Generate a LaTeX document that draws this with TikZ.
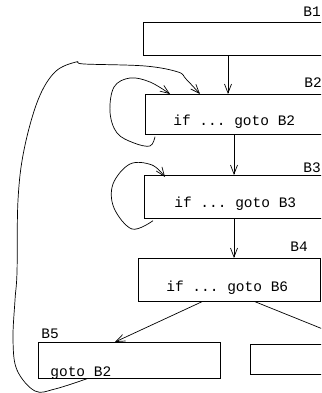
\documentclass[tikz,border=0pt]{standalone}
\usepackage{fontspec}
\setmonofont{Liberation Mono}
\usetikzlibrary{arrows.meta}

\begin{document}
\begin{tikzpicture}[x=1pt,y=-1pt,line width=0.7pt,
    >={Straight Barb[length=9pt,width=7pt]},
    block/.style={draw,anchor=north west,inner sep=0pt},
    code/.style={anchor=base west,inner sep=0pt,font=\ttfamily\fontsize{14.5}{16}\selectfont}]
	\useasboundingbox (0,0) rectangle (321,393);
	\clip (0,0) rectangle (321,393);
	
	\node[block,minimum width=200pt,minimum height=33pt] (b1) at (143,22) {};
	\node[block,minimum width=200pt,minimum height=40pt] (b2) at (145,94) {};
	\node[block,minimum width=200pt,minimum height=43pt] (b3) at (144,175) {};
	\node[block,minimum width=182pt,minimum height=43pt] (b4) at (138,258) {};
	\node[block,minimum width=182pt,minimum height=36pt] (b5) at (38,342) {};
	\node[block,minimum width=150pt,minimum height=30pt] (b6) at (250,344) {};
	
	\node[code] (n1) at (303,17) {B1};
	\node[code] (n2) at (304,88) {B2};
	\node[code] (n3) at (303,172) {B3};
	\node[code] (n4) at (290,251) {B4};
	\node[code] (n5) at (41,338) {B5};
	
	\node[code] (t2) at (173,125) {if ... goto B2};
	\node[code] (t3) at (174,207) {if ... goto B3};
	\node[code] (t4) at (166,291) {if ... goto B6};
	\node[code] (t5) at (50,376) {goto B2};
	
	\draw[->] ([xshift=85pt]b1.south west) -- ([xshift=83pt]b2.north west);
	\draw[->] ([xshift=89pt]b2.south west) -- ([xshift=90pt]b3.north west);
	\draw[->] ([xshift=90pt]b3.south west) -- ([xshift=96pt]b4.north west);
	\draw[->] ([xshift=64pt]b4.south west) -- ([xshift=77pt]b5.north west);
	\draw[->] ([xshift=117pt]b4.south west) -- ([xshift=110pt]b6.north west);
	
	% back edges, drawn by hand
	\coordinate (s2) at ([xshift=10pt,yshift=-2pt]b2.south west);
	\coordinate (e2) at ([xshift=25pt]b2.north west);
	\draw[->] plot[smooth,tension=0.6] coordinates {(s2) (150,146) (134,143) (117,133) (110,112) (114,87) (130,78) (150,82) (e2)};
	\coordinate (s3) at ([xshift=9pt,yshift=-2pt]b3.south west);
	\coordinate (e3) at ([xshift=21pt,yshift=-2pt]b3.north west);
	\draw[->] plot[smooth,tension=0.6] coordinates {(s3) (132,229) (114,208) (113,184) (130,164) (152,165) (e3)};
	\coordinate (s5) at ([xshift=49pt]b5.south west);
	\coordinate (e5) at ([xshift=55pt]b2.north west);
	\draw[->] plot[smooth,tension=0.6] coordinates {(s5) (55,389) (35,391) (17,370) (13,340) (15,300) (17,272) (18,200) (24,150) (38,100) (55,72) (76,62) (84,64) (145,66) (178,72) (186,79) (e5)};
\end{tikzpicture}
\end{document}
